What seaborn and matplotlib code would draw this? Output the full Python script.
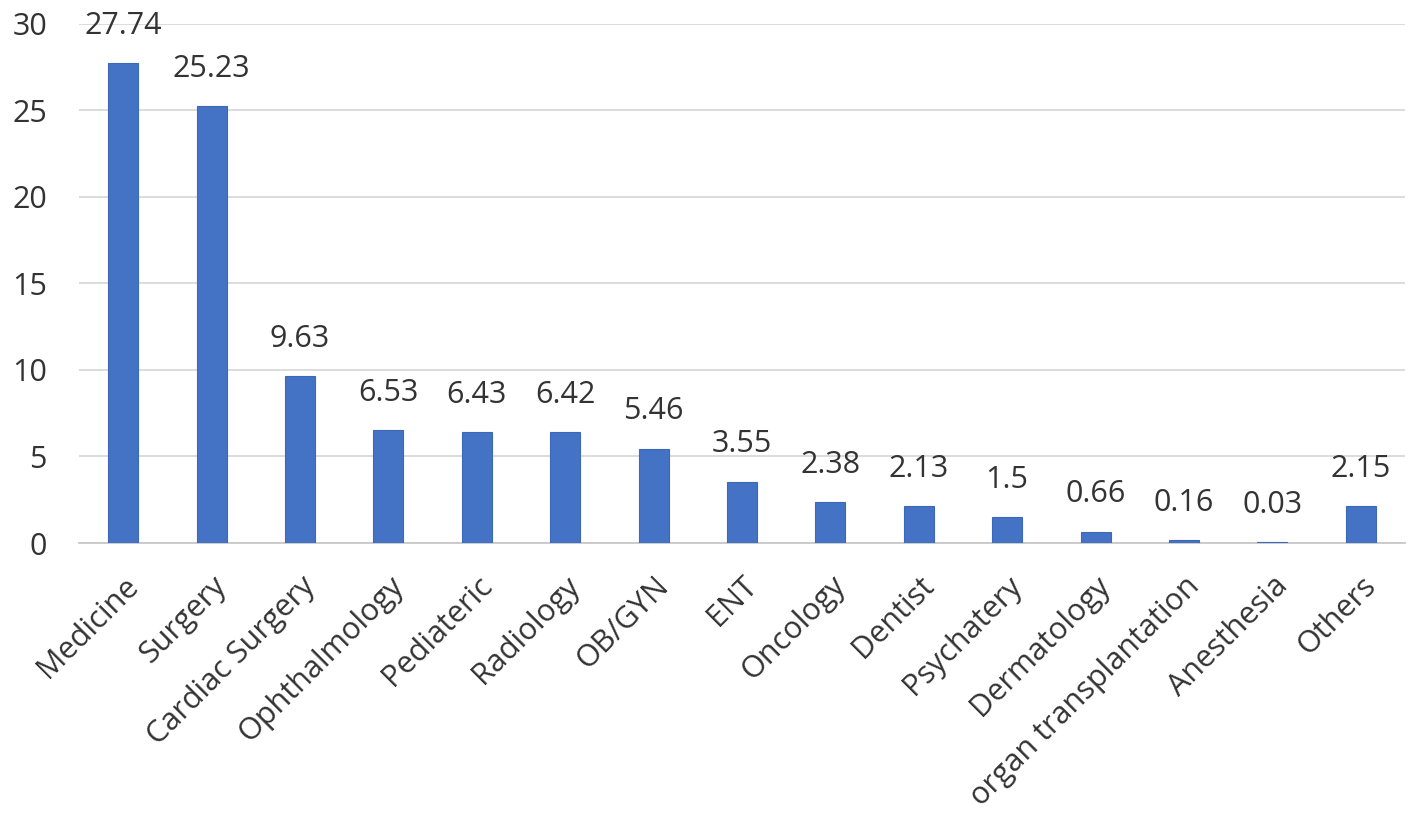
import matplotlib
matplotlib.use('Agg')
import matplotlib.pyplot as plt
import pandas as pd
import seaborn as sns

# Specialty shares (%)
specialties = ['Medicine', 'Surgery', 'Cardiac Surgery', 'Ophthalmology', 'Pediateric',
               'Radiology', 'OB/GYN', 'ENT', 'Oncology', 'Dentist', 'Psychatery',
               'Dermatology', 'organ transplantation', 'Anesthesia', 'Others']
values = [27.74, 25.23, 9.63, 6.53, 6.43, 6.42, 5.46, 3.55, 2.38, 2.13, 1.5, 0.66, 0.16, 0.03, 2.15]
value_labels = ['27.74', '25.23', '9.63', '6.53', '6.43', '6.42', '5.46', '3.55', '2.38',
                '2.13', '1.5', '0.66', '0.16', '0.03', '2.15']

df = pd.DataFrame({'Specialty': specialties, 'Value': values})

sns.set_style('white')
plt.rcParams['font.family'] = ['Open Sans', 'DejaVu Sans']
txt_color = '#333333'

fig = plt.figure(figsize=(14.17, 8.26), dpi=100)
ax = fig.add_axes([0.0557, 0.3426, 0.9358, 0.6285])

sns.barplot(data=df, x='Specialty', y='Value', color='#4472C4', saturation=1, width=0.34,
            ax=ax, edgecolor='#3d68b8', linewidth=0.8, zorder=3)

for i, (v, lab) in enumerate(zip(values, value_labels)):
    ax.annotate(lab, (i, v), xytext=(0, 21), textcoords='offset points',
                ha='center', va='baseline', fontsize=22, color=txt_color)

ax.set_ylim(0, 30)
ax.set_xlim(-0.5, len(specialties) - 0.5)
ax.set_yticks(range(0, 31, 5))
ax.yaxis.grid(True, color='#d9d9d9', linewidth=1.3, zorder=0)
ax.set_axisbelow(True)
for s in ['top', 'right', 'left']:
    ax.spines[s].set_visible(False)
ax.spines['bottom'].set_color('#c8c8c8')
ax.spines['bottom'].set_linewidth(1.3)
ax.tick_params(axis='both', length=0, labelsize=22, colors=txt_color)
ax.tick_params(axis='y', pad=23)
ax.tick_params(axis='x', pad=20)
plt.setp(ax.get_xticklabels(), rotation=45, ha='right', rotation_mode='anchor')
ax.set_xlabel('')
ax.set_ylabel('')

fig.savefig('out.png', dpi=100)
